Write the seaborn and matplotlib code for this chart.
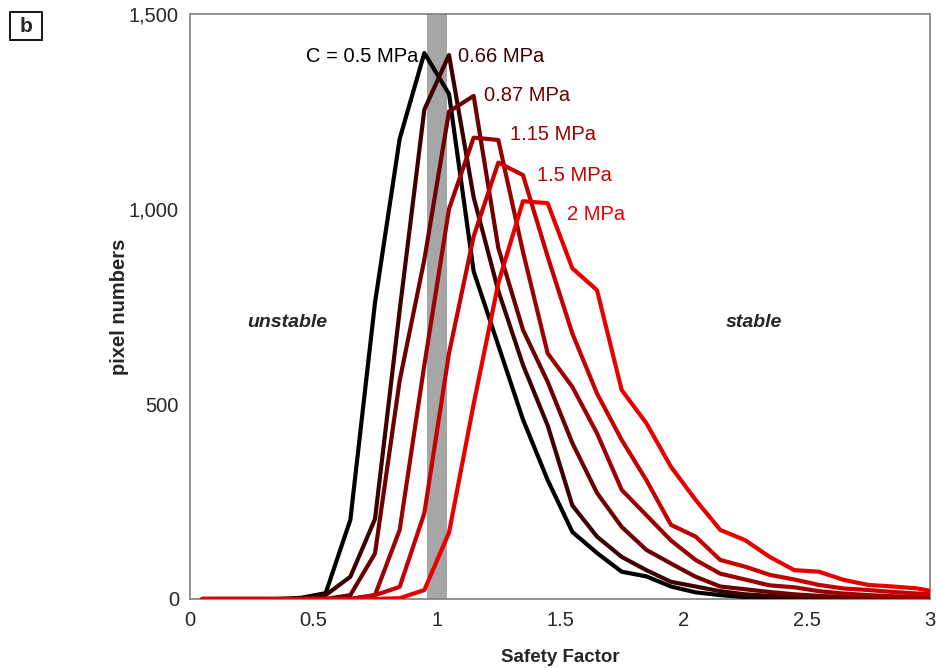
import pandas as pd
import matplotlib
matplotlib.use('Agg')
import matplotlib.pyplot as plt
import matplotlib.patches as mpatches
import seaborn as sns

# Safety factor bin centres
safety_factor = [0.05, 0.15, 0.25, 0.35, 0.45, 0.55, 0.65, 0.75, 0.85, 0.95,
                 1.05, 1.15, 1.25, 1.35, 1.45, 1.55, 1.65, 1.75, 1.85, 1.95,
                 2.05, 2.15, 2.25, 2.35, 2.45, 2.55, 2.65, 2.75, 2.85, 2.95, 3.05]

# pixel counts per cohesion value
c_050 = [0, 0, 0, 0, 3, 15, 203, 760, 1180, 1400, 1295, 840, 650, 460, 305, 172,
         118, 70, 58, 32, 17, 10, 5, 3, 1, 0, 0, 0, 0, 0, 0]
c_066 = [0, 0, 0, 0, 0, 10, 57, 205, 740, 1255, 1395, 1030, 790, 600, 445, 240,
         160, 108, 74, 44, 32, 20, 12, 8, 5, 3, 2, 1, 0, 0, 0]
c_087 = [0, 0, 0, 0, 0, 0, 10, 117, 560, 870, 1250, 1290, 900, 690, 557, 400,
         272, 185, 126, 91, 57, 32, 25, 18, 12, 8, 5, 3, 2, 1, 0]
c_115 = [0, 0, 0, 0, 0, 0, 0, 10, 177, 600, 1000, 1183, 1177, 890, 630, 544,
         425, 280, 215, 150, 100, 65, 50, 35, 30, 20, 14, 10, 7, 5, 3]
c_150 = [0, 0, 0, 0, 0, 0, 0, 10, 31, 220, 630, 930, 1119, 1087, 878, 681,
         527, 408, 305, 190, 160, 100, 83, 62, 50, 36, 27, 23, 18, 14, 10]
c_200 = [0, 0, 0, 0, 0, 0, 0, 0, 2, 23, 170, 500, 810, 1020, 1015, 848,
         792, 536, 451, 339, 254, 177, 151, 108, 74, 70, 49, 36, 32, 27, 15]

labels = ['C = 0.5 MPa', '0.66 MPa', '0.87 MPa', '1.15 MPa', '1.5 MPa', '2 MPa']
colors = ['#000000', '#3d0000', '#6e0000', '#9c0000', '#c40000', '#e60000']

series = [c_050, c_066, c_087, c_115, c_150, c_200]
frames = []
for lab, vals in zip(labels, series):
    frames.append(pd.DataFrame({'sf': safety_factor, 'count': vals, 'cohesion': lab}))
df = pd.concat(frames, ignore_index=True)

sns.set_style('white')
plt.rcParams['font.family'] = ['Liberation Sans', 'DejaVu Sans']

fig = plt.figure(figsize=(9.37, 6.68), dpi=100)
ax = fig.add_axes([0.2028, 0.1033, 0.7897, 0.8757])

# gray band around SF = 1
ax.axvspan(0.96, 1.04, color='#a6a6a6', zorder=0, lw=0)

sns.lineplot(data=df, x='sf', y='count', hue='cohesion', palette=colors,
             hue_order=labels, linewidth=3.0, legend=False, ax=ax, zorder=3)

# curve labels
lab_fs = 14.5
ax.text(0.925, 1390, labels[0], color=colors[0], fontsize=lab_fs, ha='right', va='center')
ax.text(1.086, 1390, labels[1], color=colors[1], fontsize=lab_fs, ha='left', va='center')
ax.text(1.192, 1290, labels[2], color=colors[2], fontsize=lab_fs, ha='left', va='center')
ax.text(1.297, 1190, labels[3], color=colors[3], fontsize=lab_fs, ha='left', va='center')
ax.text(1.407, 1085, labels[4], color=colors[4], fontsize=lab_fs, ha='left', va='center')
ax.text(1.528, 985, labels[5], color=colors[5], fontsize=lab_fs, ha='left', va='center')

ax.text(0.393, 708, 'unstable', fontsize=14, fontweight='bold', fontstyle='italic',
        ha='center', va='center')
ax.text(2.286, 708, 'stable', fontsize=14, fontweight='bold', fontstyle='italic',
        ha='center', va='center')

ax.set_xlim(0, 3)
ax.set_ylim(0, 1500)
ax.set_xticks([0, 0.5, 1, 1.5, 2, 2.5, 3])
ax.set_xticklabels(['0', '0.5', '1', '1.5', '2', '2.5', '3'])
ax.set_yticks([0, 500, 1000, 1500])
ax.set_yticklabels(['0', '500', '1,000', '1,500'])
ax.tick_params(direction='in', length=6, width=1, color='#7f7f7f',
               labelsize=14.5, pad=8)
ax.tick_params(axis='x', pad=9)

for side in ['left', 'bottom', 'right', 'top']:
    ax.spines[side].set_color('#7f7f7f')
    ax.spines[side].set_linewidth(1.2)

ax.set_xlabel('Safety Factor', fontsize=13.5, fontweight='bold', labelpad=13)
ax.set_ylabel('pixel numbers', fontsize=14.5, fontweight='bold', labelpad=0)

# panel letter in a box
fig.patches.append(mpatches.Rectangle((0.0107, 0.9401), 0.0342, 0.0419,
                                      transform=fig.transFigure, fc='white',
                                      ec='black', lw=1.3))
fig.text(0.0277, 0.9605, 'b', fontsize=15, fontweight='bold', ha='center', va='center')

fig.savefig('out.png', dpi=100)
